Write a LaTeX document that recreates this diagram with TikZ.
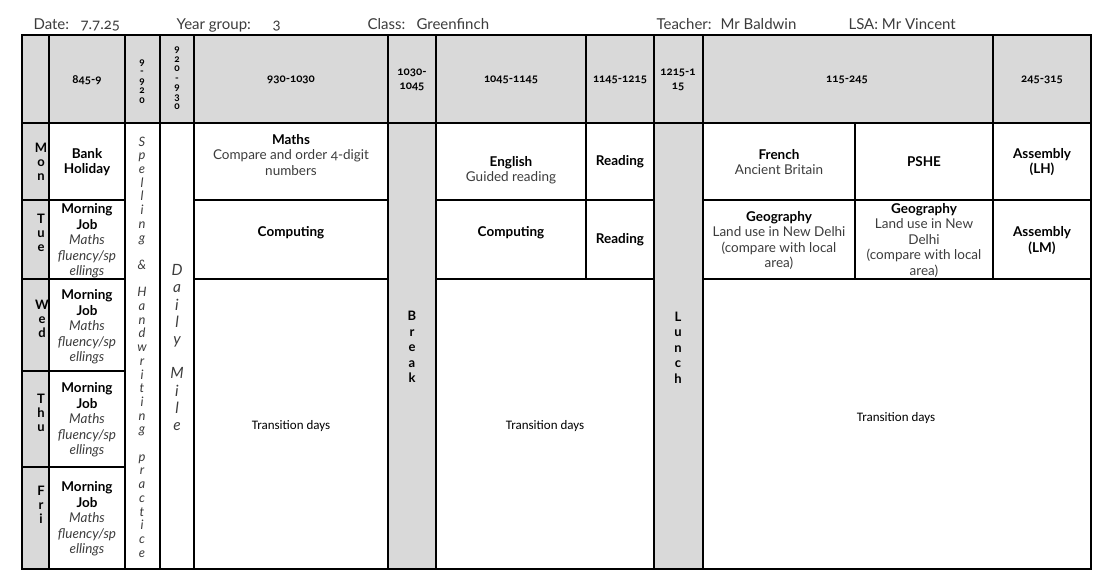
\documentclass[tikz,border=0pt]{standalone}
\usepackage{fontspec}
\setmainfont{Lato}[Numbers=OldStyle]
\newfontfamily\calibri{Carlito}
\usepackage{xcolor}
\usetikzlibrary{positioning}
\definecolor{cellgrey}{HTML}{D9D9D9}
\definecolor{softtext}{HTML}{3C3C3C}

\begin{document}
\begin{tikzpicture}[x=1pt,y=-1pt,line width=1.1pt,
  every node/.style={align=center,inner sep=0pt,font=\fontsize{13.5}{15.5}\selectfont},
  topline/.style={anchor=base west,font=\fontsize{15}{18}\selectfont,text=softtext},
  slot/.style={font=\bfseries\fontsize{11.5}{14}\selectfont},
  digits/.style={font=\bfseries\fontsize{10}{9.5}\selectfont},
  day/.style={font=\bfseries\fontsize{13}{14}\selectfont},
  pause/.style={font=\bfseries\fontsize{13}{15.5}\selectfont},
  spell/.style={font=\itshape\fontsize{13}{13.7}\selectfont,text=softtext},
  mile/.style={font=\itshape\fontsize{15.5}{17.2}\selectfont,text=softtext},
  transit/.style={font=\calibri\fontsize{13}{15}\selectfont}]
\useasboundingbox (0,0) rectangle (1101,574);

% shaded parts
\fill[cellgrey] (22,35) rectangle (1091,123);
\fill[cellgrey] (22,123) rectangle (49,569);
\fill[cellgrey] (388,123) rectangle (436,569);
\fill[cellgrey] (654,123) rectangle (703,569);

% grid
\draw (22,35) rectangle (1091,569);
\draw (22,123) -- (1091,123);
\foreach \x in {49,125,160,194,388,436,654,703}
  \draw (\x,35) -- (\x,569);
\draw (586,35) -- (586,279) (993,35) -- (993,279) (855,123) -- (855,279);
\foreach \y in {200,279} {
  \draw (22,\y) -- (125,\y) (194,\y) -- (388,\y) (436,\y) -- (654,\y) (703,\y) -- (1091,\y);
}
\draw (22,371) -- (125,371) (22,467) -- (125,467);

% line above the table
\node[topline] (datelbl) at (33,29) {Date:};
\node[topline] (dateval) at (80,29) {7.7.25};
\node[topline] (yearlbl) at (176,29) {Year group:};
\node[topline] (yearval) at (272,29) {3};
\node[topline] (classlbl) at (367,29) {Class:};
\node[topline] (classval) at (416,29) {Greenfinch};
\node[topline] (teachlbl) at (656,29) {Teacher:};
\node[topline] (teachval) at (720,29) {Mr Baldwin};
\node[topline] (lsa) at (848,29) {LSA: Mr Vincent};

% times
\node[slot] (t1) at (87,80) {845-9};
\node[digits] (t2) at (142,81.5) {9\\-\\9\\2\\0};
\node[digits] (t3) at (177,78.5) {9\\2\\0\\-\\9\\3\\0};
\node[slot] (t4) at (291,80) {930-1030};
\node[slot] (t5) at (412,80) {1030-\\1045};
\node[slot] (t6) at (511,80) {1045-1145};
\node[slot] (t7) at (620,80) {1145-1215};
\node[slot] (t8) at (678,80) {1215-1\\15};
\node[slot] (t9) at (847,80) {115-245};
\node[slot] (t10) at (1042,80) {245-315};

% days
\node[day] (mon) at (41,162) {M\\o\\n};
\node[day] (tue) at (41,233) {T\\u\\e};
\node[day] (wed) at (42,319) {W\\e\\d};
\node[day] (thu) at (41,413) {T\\h\\u};
\node[day] (fri) at (41,505) {F\\r\\i};

% early morning
\node (bank) at (87,162) {\textbf{Bank}\\\textbf{Holiday}};
\foreach \d/\y in {tue/241,wed/327,thu/420,fri/519}
  \node (job\d) at (87,\y) {\textbf{Morning}\\\textbf{Job}\\\color{softtext}\itshape Maths\\\color{softtext}\itshape fluency/sp\\\color{softtext}\itshape ellings};
\node[spell] (spelling) at (142,347) {S\\p\\e\\l\\l\\i\\n\\g\\~\\\&\\~\\H\\a\\n\\d\\w\\r\\i\\t\\i\\n\\g\\~\\p\\r\\a\\c\\t\\i\\c\\e};
\node[mile] (dailymile) at (177,347.5) {D\\a\\i\\l\\y\\~\\M\\i\\l\\e};

% lessons
\node (maths) at (291,155) {\textbf{Maths}\\\color{softtext}Compare and order 4-digit\\\color{softtext}numbers};
\node (comp1) at (291,233) {\textbf{Computing}};
\node[transit] (trans1) at (291,426) {Transition days};
\node[pause] (break) at (412,347) {B\\r\\e\\a\\k};
\node (english) at (511,170) {\textbf{English}\\\color{softtext}Guided reading};
\node (comp2) at (511,233) {\textbf{Computing}};
\node (read1) at (620,162) {\textbf{Reading}};
\node (read2) at (620,240) {\textbf{Reading}};
\node[transit] (trans2) at (545,426) {Transition days};
\node[pause] (lunch) at (678,347.5) {L\\u\\n\\c\\h};
\node (french) at (779,162) {\textbf{French}\\\color{softtext}Ancient Britain};
\node (pshe) at (924,162) {\textbf{PSHE}};
\node (assemA) at (1042,162) {\textbf{Assembly}\\\textbf{(LH)}};
\node (geogA) at (779,240.5) {\textbf{Geography}\\\color{softtext}Land use in New Delhi\\\color{softtext}(compare with local\\\color{softtext}area)};
\node (geogB) at (924,240) {\textbf{Geography}\\\color{softtext}Land use in New\\\color{softtext}Delhi\\\color{softtext}(compare with local\\\color{softtext}area)};
\node (assemB) at (1042,240.5) {\textbf{Assembly}\\\textbf{(LM)}};
\node[transit] (trans3) at (896,418) {Transition days};

\end{tikzpicture}
\end{document}
